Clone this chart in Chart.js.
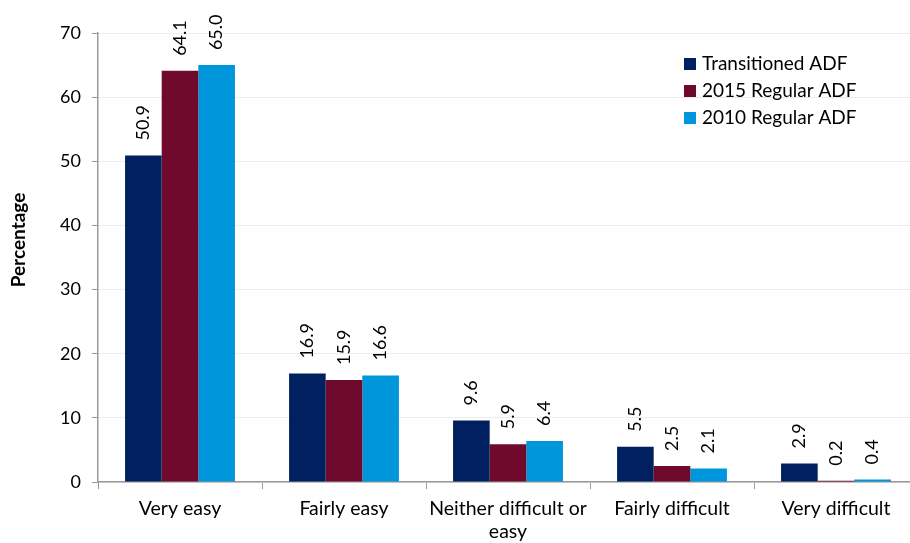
<!DOCTYPE html>
<html>
<head>
<meta charset="utf-8">
<script src="https://cdn.jsdelivr.net/npm/chart.js@4/dist/chart.umd.min.js"></script>
<style>
  html, body { margin: 0; padding: 0; background: #fff; overflow: hidden; }
  #wrap { width: 920px; height: 543px; }
</style>
</head>
<body>
<div id="wrap"><canvas id="grafico"></canvas></div>
<script>
const categorias = ['Very easy', 'Fairly easy', ['Neither difficult or', 'easy'], 'Fairly difficult', 'Very difficult']
const transicionados = [50.9, 16.9, 9.6, 5.5, 2.9]
const regular2015 = [64.1, 15.9, 5.9, 2.5, 0.2]
const regular2010 = [65.0, 16.6, 6.4, 2.1, 0.4]
const nombresSeries = ['Transitioned ADF', '2015 Regular ADF', '2010 Regular ADF']
const colores = ['#002060', '#700A2C', '#0096DC']
const ticksY = [0, 10, 20, 30, 40, 50, 60, 70]
const tituloY = 'Percentage'

const fuente = 'Lato, "Open Sans", sans-serif'

// etiquetas de valor giradas encima de cada barra
const etiquetasBarras = {
    id: 'etiquetasBarras',
    afterDatasetsDraw(chart) {
        const ctx = chart.ctx
        ctx.save()
        ctx.font = '18px ' + fuente
        ctx.fillStyle = '#000'
        ctx.textAlign = 'left'
        ctx.textBaseline = 'middle'
        chart.data.datasets.forEach((ds, i) => {
            chart.getDatasetMeta(i).data.forEach((bar, j) => {
                ctx.save()
                ctx.translate(bar.x, bar.y - 15)
                ctx.rotate(-Math.PI / 2)
                ctx.fillText(ds.data[j].toFixed(1), 0, 0)
                ctx.restore()
            })
        })
        ctx.restore()
    }
}

// leyenda dentro del area del grafico, arriba a la derecha, y titulo del eje y
const leyenda = {
    id: 'leyenda',
    afterDraw(chart) {
        const ctx = chart.ctx
        ctx.save()
        ctx.font = '19px ' + fuente
        ctx.textBaseline = 'middle'
        nombresSeries.forEach((n, i) => {
            let y = 64 + i * 27
            ctx.fillStyle = colores[i]
            ctx.fillRect(684, y - 6, 12, 12)
            ctx.fillStyle = '#000'
            ctx.fillText(n, 702, y)
        })
        ctx.translate(19, 240)
        ctx.rotate(-Math.PI / 2)
        ctx.textAlign = 'center'
        ctx.font = 'bold 19px ' + fuente
        ctx.fillText(tituloY, 0, 0)
        ctx.restore()
    }
}

let grafico = new Chart(document.getElementById('grafico'), {
    type: 'bar',
    data: {
        labels: categorias,
        datasets: nombresSeries.map((n, i) => ({
            label: n,
            data: [transicionados, regular2015, regular2010][i],
            backgroundColor: colores[i],
            barPercentage: 1,
            categoryPercentage: 0.67
        }))
    },
    options: {
        responsive: true,
        maintainAspectRatio: false,
        animation: false,
        layout: { padding: { left: 0, right: 2, top: 33, bottom: 0 } },
        plugins: { legend: { display: false }, tooltip: { enabled: false } },
        scales: {
            x: {
                grid: { drawOnChartArea: false, tickLength: 7, color: '#999', tickColor: '#999' },
                border: { color: '#999', width: 1.5 },
                ticks: { color: '#000', font: { family: fuente, size: 19.5, lineHeight: 1.18 }, maxRotation: 0, autoSkip: false, padding: 8 },
                afterFit(s) { s.height = 61 }
            },
            y: {
                min: 0,
                max: 70,
                afterBuildTicks(s) { s.ticks = ticksY.map(v => ({ value: v })) },
                grid: { color: '#ececec', tickColor: '#999', tickLength: 6 },
                border: { color: '#999', width: 1.5 },
                ticks: { color: '#000', font: { family: fuente, size: 18 }, padding: 11 },
                afterFit(s) { s.width = 98 }
            }
        }
    },
    plugins: [etiquetasBarras, leyenda]
})
</script>
</body>
</html>
